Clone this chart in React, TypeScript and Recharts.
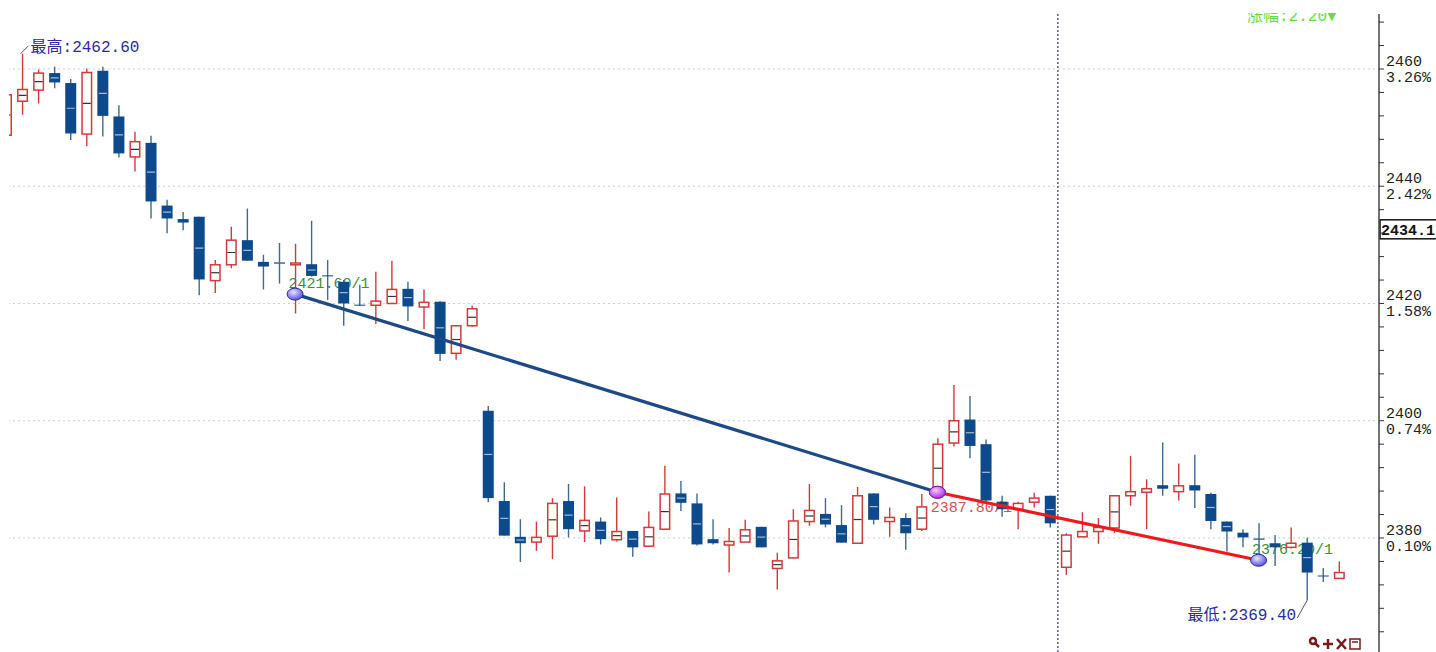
import React from "react";
import { ComposedChart, Bar, Line, XAxis, YAxis, CartesianGrid, ReferenceLine } from "recharts";

// K线数据，按时间顺序
const opens = [
  2448.7, 2454.5, 2456.4, 2459.3, 2457.6, 2448.9, 2459.7, 2451.9, 2445.0, 2447.4,
  2436.7, 2434.4, 2434.8, 2423.9, 2426.6, 2430.8, 2427.1, 2426.9, 2426.6, 2426.7,
  2424.8, 2423.7, 2419.8, 2419.7, 2420.0, 2422.5, 2419.4, 2420.3, 2411.5, 2416.2,
  2401.7, 2386.3, 2380.2, 2379.3, 2380.3, 2386.3, 2381.2, 2382.8, 2379.7, 2381.2,
  2378.6, 2381.5, 2387.6, 2385.9, 2379.8, 2378.8, 2379.3, 2381.9, 2374.8, 2376.6,
  2382.8, 2384.1, 2382.2, 2379.1, 2387.6, 2382.8, 2383.4, 2381.5, 2387.8, 2396.2,
  2400.2, 2396.0, 2386.2, 2384.9, 2386.1, 2387.2, 2375.0, 2380.2, 2381.1, 2381.7,
  2387.2, 2387.8, 2389.0, 2387.9, 2389.0, 2387.5, 2382.8, 2380.9, 2379.8, 2379.1,
  2378.4, 2379.2, 2373.6, 2373.1,
];
const highs = [
  2456.0, 2462.6, 2459.9, 2460.4, 2458.3, 2460.1, 2460.4, 2453.8, 2449.3, 2448.6,
  2437.7, 2435.6, 2434.8, 2427.4, 2433.1, 2436.2, 2428.3, 2430.3, 2430.2, 2434.1,
  2427.4, 2424.0, 2423.2, 2425.4, 2427.3, 2423.7, 2422.4, 2420.4, 2416.3, 2419.6,
  2402.5, 2389.5, 2383.2, 2382.8, 2386.8, 2389.2, 2388.8, 2383.5, 2386.9, 2381.2,
  2384.5, 2392.3, 2389.7, 2387.6, 2383.2, 2381.7, 2383.1, 2381.9, 2377.5, 2384.9,
  2389.2, 2386.8, 2385.6, 2388.7, 2387.6, 2385.2, 2384.2, 2387.5, 2397.0, 2406.1,
  2404.2, 2396.8, 2387.2, 2386.2, 2387.7, 2387.2, 2380.8, 2384.4, 2383.4, 2387.3,
  2394.0, 2390.0, 2396.3, 2392.7, 2394.2, 2387.7, 2382.8, 2381.5, 2382.5, 2380.5,
  2381.8, 2380.1, 2374.9, 2376.0,
];
const lows = [
  2448.5, 2452.2, 2454.1, 2456.7, 2447.9, 2446.8, 2448.5, 2444.9, 2442.5, 2434.5,
  2432.0, 2432.5, 2421.4, 2421.8, 2426.0, 2427.3, 2422.4, 2423.4, 2418.3, 2424.6,
  2420.6, 2416.2, 2419.6, 2416.5, 2420.0, 2417.0, 2415.6, 2410.2, 2410.4, 2416.0,
  2386.1, 2380.4, 2375.9, 2377.8, 2376.4, 2380.1, 2379.3, 2378.9, 2379.4, 2376.8,
  2378.6, 2381.5, 2384.6, 2378.7, 2378.9, 2374.1, 2379.3, 2378.4, 2371.2, 2376.5,
  2382.1, 2381.8, 2379.2, 2379.1, 2382.3, 2380.2, 2378.0, 2381.2, 2387.3, 2395.6,
  2393.6, 2386.2, 2383.6, 2381.5, 2385.2, 2381.8, 2373.7, 2380.2, 2379.0, 2380.8,
  2385.5, 2381.5, 2387.2, 2386.4, 2385.1, 2381.5, 2377.7, 2378.4, 2376.2, 2375.2,
  2378.2, 2369.4, 2372.5, 2373.1,
];
const closes = [
  2455.6, 2456.5, 2459.3, 2457.7, 2449.0, 2459.4, 2452.0, 2445.6, 2447.6, 2437.4,
  2434.5, 2433.8, 2424.1, 2426.6, 2430.8, 2427.3, 2426.3, 2426.9, 2426.9, 2424.7,
  2424.7, 2420.0, 2419.7, 2420.4, 2422.4, 2419.5, 2420.2, 2411.4, 2416.2, 2419.1,
  2386.8, 2380.4, 2379.1, 2380.1, 2385.9, 2381.5, 2383.0, 2379.8, 2381.1, 2378.4,
  2381.8, 2387.5, 2386.0, 2378.9, 2379.1, 2379.4, 2381.4, 2378.4, 2376.1, 2382.9,
  2384.7, 2382.3, 2379.2, 2387.2, 2383.1, 2383.5, 2380.8, 2385.3, 2396.0, 2400.0,
  2395.7, 2386.4, 2384.9, 2385.9, 2386.8, 2382.5, 2380.5, 2381.1, 2381.8, 2387.2,
  2387.9, 2388.4, 2388.4, 2388.9, 2388.1, 2382.9, 2381.1, 2380.1, 2379.8, 2378.4,
  2379.1, 2374.1, 2373.5, 2374.1,
];

// 画线工具的三个点 (K线序号, 价位)
const trendIdx = [18, 58, 78];
const trendVals = [2421.6, 2387.8, 2376.2];

const lastPrice = 2434.1;
const yTicks = [
  2364, 2368, 2372, 2376, 2380, 2384, 2388, 2392, 2396, 2400, 2404, 2408, 2412,
  2416, 2420, 2424, 2428, 2432, 2436, 2440, 2444, 2448, 2452, 2456, 2460, 2464, 2468,
];
const majorTicks = [2380, 2400, 2420, 2440, 2460];
const pctLabels = ["0.10%", "0.74%", "1.58%", "2.42%", "3.26%"];
const emptySlots = 2;

const RED = "#d23a3a";
const BLUE = "#0d4a8c";
const BLUE_WICK = "#3f6a92";
const MONO = "'Liberation Mono', 'DejaVu Sans Mono', 'Noto Sans CJK SC', monospace";

const maxHigh = Math.max(...highs);
const minLow = Math.min(...lows);

const data: any[] = opens.map((o, i) => {
  const t = trendIdx.indexOf(i);
  return {
    i,
    open: o,
    high: highs[i],
    low: lows[i],
    close: closes[i],
    range: [lows[i], highs[i]],
    ta: t === 0 || t === 1 ? trendVals[t] : null,
    tb: t === 1 || t === 2 ? trendVals[t] : null,
    tl: t >= 0 ? trendVals[t] : null,
  };
});
for (let k = 0; k < emptySlots; k++) data.push({ i: opens.length + k });

const Candle = (p: any) => {
  const { x, y, width, height, payload } = p;
  if (!payload || payload.open == null || height == null) return <g />;
  const { open, high, low, close } = payload;
  const k = height / (high - low);
  const Y = (v: number) => y + (high - v) * k;
  const cx = x + width / 2;
  const up = close > open;
  const flat = close === open;
  const wick = up ? RED : BLUE_WICK;
  const top = Y(Math.max(open, close));
  const bot = Y(Math.min(open, close));
  const h = Math.max(bot - top, 1);
  const mid = payload.i === trendIdx[1];
  return (
    <g>
      {payload.tl != null && (
        // 画线标签放在K线下层，被后面的K线遮住一部分
        <text x={cx - 7} y={mid ? Y(payload.tl) + 20 : Y(payload.tl) - 6} fontSize={15} fontFamily={MONO}
          fill={mid ? "#d25050" : "#3a8f3a"}>
          {payload.tl.toFixed(2)}/1
        </text>
      )}
      <line x1={cx} x2={cx} y1={y} y2={y + height} stroke={wick} strokeWidth={1.4} />
      {flat ? (
        <line x1={x} x2={x + width} y1={top} y2={top} stroke={wick} strokeWidth={1.5} />
      ) : up ? (
        <rect x={x + 0.75} y={top} width={width - 1.5} height={h} fill="#fff" stroke={RED} strokeWidth={1.5} />
      ) : (
        <rect x={x} y={top} width={width} height={h} fill={BLUE} />
      )}
      {!flat && h > 6 && (
        <line x1={x + 1.5} x2={x + width - 1.5} y1={(top + bot) / 2} y2={(top + bot) / 2}
          stroke={up ? "#333" : "#a8bccf"} strokeWidth={1.2} />
      )}
      {high === maxHigh && (
        <g>
          <line x1={cx - 2} y1={y} x2={cx + 6} y2={y - 8} stroke="#555" strokeWidth={1} />
          <text x={cx + 8} y={y - 1.5} fontSize={16} fontFamily={MONO} fill="#2a2aa8">最高:{high.toFixed(2)}</text>
        </g>
      )}
      {low === minLow && (
        <g>
          <line x1={cx} y1={y + height} x2={cx - 10} y2={y + height + 18} stroke="#555" strokeWidth={1} />
          <text x={cx - 11} y={y + height + 20} textAnchor="end" fontSize={16} fontFamily={MONO} fill="#2a2aa8">最低:{low.toFixed(2)}</text>
        </g>
      )}
    </g>
  );
};

const makeMarker = (key: string) => (p: any) => {
  const { cx, cy, index, payload } = p;
  if (cx == null || cy == null || payload?.[key] == null) return <g key={`${key}-${index}`} />;
  const mid = index === trendIdx[1];
  const id = `grad-${key}-${index}`;
  return (
    <g key={`${key}-${index}`}>
      <defs>
        <radialGradient id={id} cx="40%" cy="35%" r="65%">
          <stop offset="0%" stopColor={mid ? "#f4c8ff" : "#e4e4ff"} />
          <stop offset="100%" stopColor={mid ? "#b030e0" : "#5a50e8"} />
        </radialGradient>
      </defs>
      <ellipse cx={cx} cy={cy} rx={8} ry={6} fill={`url(#${id})`} stroke={mid ? "#7a1aa0" : "#2a2a90"} strokeWidth={1} />
    </g>
  );
};

const AxisTick = (p: any) => {
  const { x, y, payload } = p;
  const m = majorTicks.indexOf(payload.value);
  return (
    <g>
      <line x1={x} x2={x + 5} y1={y} y2={y} stroke="#333" strokeWidth={1} />
      {m >= 0 && (
        <g fontSize={15} fontFamily={MONO} fill="#222">
          <text x={x + 7} y={y - 3}>{payload.value}</text>
          <text x={x + 7} y={y + 13}>{pctLabels[m]}</text>
        </g>
      )}
    </g>
  );
};

const PriceBox = (p: any) => {
  const vb = p.viewBox || {};
  const x = vb.x + vb.width + 1;
  const y = vb.y;
  return (
    <g>
      <rect x={x} y={y - 1} width={62} height={19} fill="#fff" stroke="#111" strokeWidth={1.5} />
      <text x={x + 1} y={y + 14} fontSize={15} fontWeight="bold" fontFamily={MONO} fill="#111">{lastPrice}</text>
    </g>
  );
};

export default function App() {
  return (
    <div style={{ position: "absolute", left: 0, top: 0, width: 1436, height: 652, overflow: "hidden", background: "#fff" }}>
      <div style={{ position: "absolute", left: 9, top: 0, width: 1427, height: 652, overflow: "hidden" }}>
        <div style={{ position: "absolute", left: -11, top: 0 }}>
          <ComposedChart width={1438} height={652} data={data} margin={{ top: 14, right: 0, bottom: 0, left: 0 }}>
            <CartesianGrid vertical={false} horizontalValues={majorTicks} stroke="#cfcfcf" strokeDasharray="2 3" />
            <XAxis dataKey="i" type="category" hide />
            <YAxis
              orientation="right"
              width={57}
              domain={[2360.55, 2469.38]}
              allowDataOverflow
              ticks={yTicks}
              interval={0}
              tickSize={0}
              tickMargin={0}
              tickLine={false}
              axisLine={{ stroke: "#444", strokeWidth: 1.5 }}
              tick={<AxisTick />}
            />
            <ReferenceLine x={66} position="start" stroke="#5a5aa8" strokeDasharray="2 2" strokeWidth={1.5} />
            <Bar dataKey="range" barSize={11} shape={<Candle />} isAnimationActive={false} />
            <Line dataKey="ta" stroke="#1b4a86" strokeWidth={3.2} connectNulls dot={makeMarker("ta")} activeDot={false} isAnimationActive={false} />
            <Line dataKey="tb" stroke="#f01818" strokeWidth={3.2} connectNulls dot={makeMarker("tb")} activeDot={false} isAnimationActive={false} />
            <ReferenceLine y={lastPrice} stroke="none" label={<PriceBox />} />
          </ComposedChart>
        </div>
      </div>
      <svg width={1436} height={652} style={{ position: "absolute", left: 0, top: 0, pointerEvents: "none" }}>
        <defs>
          <clipPath id="hdr">
            <rect x={1200} y={13} width={200} height={20} />
          </clipPath>
        </defs>
        <text x={1247} y={21} fontSize={16} fontFamily={MONO} fill="#66dd44" clipPath="url(#hdr)">涨幅:2.20▼</text>
        <g stroke="#7a1a1a" strokeWidth={2.5} fill="none">
          <circle cx={1313} cy={641} r={3} />
          <line x1={1315} y1={643} x2={1319} y2={647} />
          <line x1={1323} y1={644} x2={1333} y2={644} />
          <line x1={1328} y1={639} x2={1328} y2={649} />
          <line x1={1337} y1={639} x2={1346} y2={649} />
          <line x1={1346} y1={639} x2={1337} y2={649} />
          <rect x={1350} y={639} width={10} height={10} strokeWidth={1.5} />
          <line x1={1352} y1={642} x2={1358} y2={642} strokeWidth={1.5} />
        </g>
      </svg>
    </div>
  );
}
